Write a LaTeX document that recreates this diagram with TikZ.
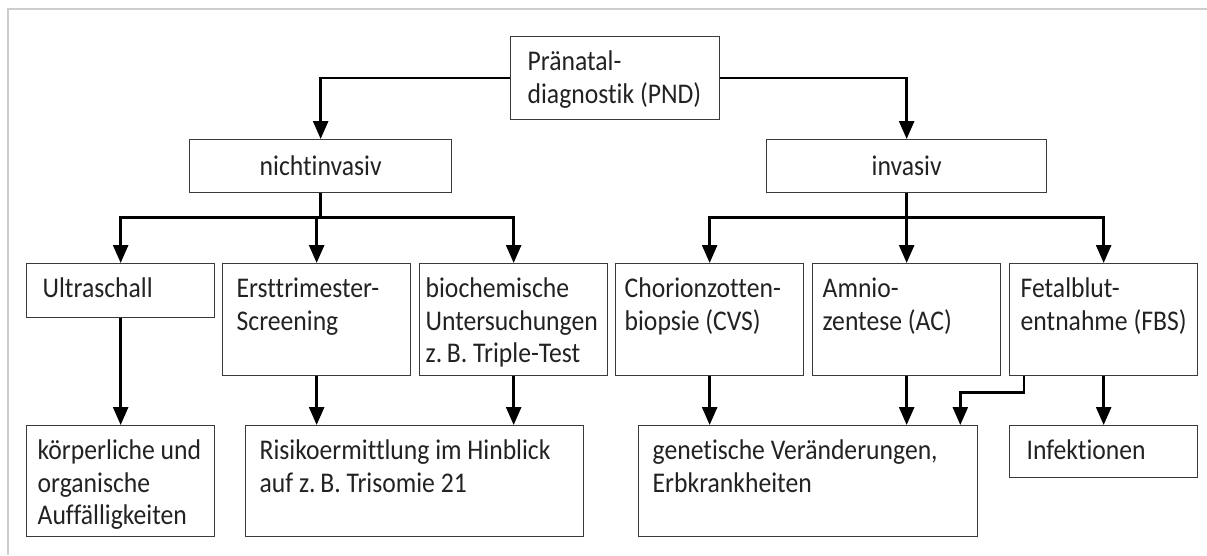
\documentclass[tikz,border=0pt]{standalone}
\usepackage{fontspec}
\setmainfont{Carlito}[FakeStretch=0.9, Ligatures=NoCommon]
\usetikzlibrary{arrows.meta}
\definecolor{framegray}{HTML}{CDCDCD}
\definecolor{edgegray}{HTML}{3A3A3A}
\definecolor{inkgray}{HTML}{222222}
% box content: width, height, left padding, text (top aligned)
\newcommand\boxtext[4]{\parbox[c][#2pt][t]{#1pt}{\raggedright\leftskip=#3pt\relax\rule{0pt}{34pt}#4}}

\begin{document}
\begin{tikzpicture}[x=1pt,y=-1pt,
  cell/.style={draw=edgegray, line width=1.3pt, inner sep=0pt, anchor=north west,
               text=inkgray, font=\fontsize{28.5}{32.5}\selectfont},
  arr/.style={draw=black, line width=2.6pt, -{Triangle[length=18pt,width=15pt]}},
  conn/.style={draw=black, line width=2.6pt}]
\useasboundingbox (0,0) rectangle (1207,555);

% page frame
\draw[framegray, line width=2.5pt] (1207,9) -- (8,9) -- (8,555);

% root
\node[cell] (pnd) at (510,36) {\boxtext{209}{83}{17}{Pränatal-\\diagnostik (PND)}};

% second level
\node[cell, minimum width=262pt, minimum height=53pt] (nich) at (189,139) {nichtinvasiv};
\node[cell, minimum width=280pt, minimum height=53pt] (inv) at (766,139) {invasiv};

% methods
\node[cell] (ultra) at (26,263)  {\boxtext{188}{54}{16}{Ultraschall}};
\node[cell] (erst)  at (222,263) {\boxtext{188}{112}{14}{Ersttrimester-\\Screening}};
\node[cell] (bio)   at (419,263) {\boxtext{188}{112}{6}{biochemische\\Untersuchungen\\z.\,B. Triple-Test}};
\node[cell] (chor)  at (615,263) {\boxtext{188}{112}{9}{Chorionzotten-\\biopsie (CVS)}};
\node[cell] (amn)   at (812,263) {\boxtext{188}{112}{10}{Amnio-\\zentese (AC)}};
\node[cell] (fet)   at (1009,263) {\boxtext{188}{112}{11}{Fetalblut-\\entnahme (FBS)}};

% findings
\node[cell] (koerp) at (26,425)  {\boxtext{188}{111}{11}{körperliche und\\organische\\Auffälligkeiten}};
\node[cell] (risk)  at (245,425) {\boxtext{338}{111}{14}{Risikoermittlung im Hinblick\\auf z.\,B. Trisomie 21}};
\node[cell] (gen)   at (638,425) {\boxtext{339}{111}{14}{genetische Veränderungen,\\Erbkrankheiten}};
\node[cell] (inf)   at (1009,425) {\boxtext{188}{52}{17}{Infektionen}};

% root to second level
\draw[arr] (pnd.west) -| (nich.north);
\draw[arr] (pnd.east) -| (inv.north);

% second level to methods
\draw[arr] (nich.south) -- ++(0,24) -| (ultra.north);
\draw[arr] (nich.south) -- ++(0,24) -| (erst.north);
\draw[arr] (nich.south) -- ++(0,24) -| (bio.north);
\draw[arr] (inv.south) -- ++(0,24) -| (chor.north);
\draw[arr] (inv.south) -- ++(0,24) -| (amn.north);
\draw[arr] (inv.south) -- ++(0,24) -| (fet.north);

% methods to findings
\draw[arr] (ultra.south) -- (ultra.south |- koerp.north);
\draw[arr] (erst.south) -- (erst.south |- risk.north);
\draw[arr] (bio.south) -- (bio.south |- risk.north);
\draw[arr] (chor.south) -- (chor.south |- gen.north);
\draw[arr] (amn.south) -- (amn.south |- gen.north);
\draw[arr] ([xshift=15pt]fet.south west) -- ++(0,16) -| ([xshift=-18pt]gen.north east);
\draw[arr] (fet.south) -- (fet.south |- inf.north);
\end{tikzpicture}
\end{document}
